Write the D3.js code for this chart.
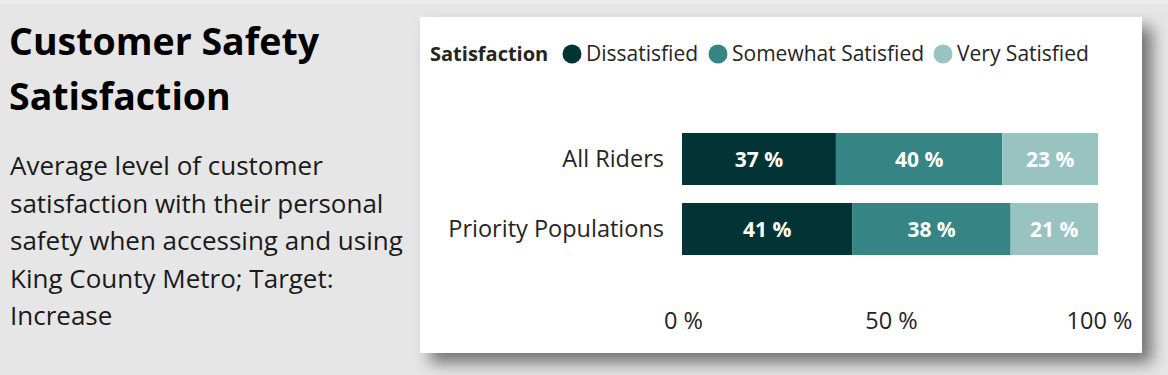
<!DOCTYPE html>
<html>
<head>
<meta charset="utf-8">
<script src="https://cdn.jsdelivr.net/npm/d3@7"></script>
<style>
  html, body { margin: 0; padding: 0; background: #e6e6e6; }
  svg { display: block; font-family: "Open Sans", "Noto Sans", sans-serif; }
</style>
</head>
<body>
<svg id="chart"></svg>
<script>
// data
const groups = ["All Riders", "Priority Populations"];
const levels = ["Dissatisfied", "Somewhat Satisfied", "Very Satisfied"];
const shares = [
  [0.37, 0.40, 0.23],   // All Riders
  [0.41, 0.38, 0.21]    // Priority Populations
];
const tickValues = [0, 0.5, 1];
const colours = ["#023436", "#348584", "#98c3c1"];

const titleLines = ["Customer Safety", "Satisfaction"];
const bodyLines = [
  "Average level of customer",
  "satisfaction with their personal",
  "safety when accessing and using",
  "King County Metro; Target:",
  "Increase"
];

const width = 1168, height = 375;
const font = '"Open Sans", "Noto Sans", sans-serif';

const svg = d3.select("#chart")
  .attr("width", width)
  .attr("height", height);

// page background
svg.append("rect").attr("width", width).attr("height", height).attr("fill", "#e6e6e6");
svg.append("rect").attr("width", width).attr("height", 4).attr("fill", "#ececec");

// left text panel
svg.append("g").selectAll("text")
  .data(titleLines)
  .join("text")
  .attr("x", 9)
  .attr("y", (d, i) => 55 + i * 55)
  .attr("font-size", 37.5)
  .attr("font-weight", 700)
  .attr("fill", "#000")
  .text(d => d);

svg.append("g").selectAll("text")
  .data(bodyLines)
  .join("text")
  .attr("x", 10)
  .attr("y", (d, i) => 175 + i * 37.5)
  .attr("font-size", 26)
  .attr("fill", "#1a1a1a")
  .text(d => d);

// card with drop shadow
const defs = svg.append("defs");
const f = defs.append("filter").attr("id", "shadow")
  .attr("x", "-10%").attr("y", "-10%").attr("width", "130%").attr("height", "130%");
f.append("feDropShadow")
  .attr("dx", 10).attr("dy", 10)
  .attr("stdDeviation", 8)
  .attr("flood-color", "#000")
  .attr("flood-opacity", 0.5);

svg.append("rect")
  .attr("x", 420).attr("y", 17)
  .attr("width", 722).attr("height", 336)
  .attr("fill", "#fff")
  .attr("filter", "url(#shadow)");

// legend
const legend = svg.append("g").attr("transform", "translate(430,61)");
legend.append("text")
  .attr("font-size", 20)
  .attr("font-weight", 700)
  .attr("fill", "#252423")
  .text("Satisfaction");
const legendX = [142, 288, 513];
const item = legend.selectAll("g.item")
  .data(levels)
  .join("g")
  .attr("class", "item")
  .attr("transform", (d, i) => `translate(${legendX[i]},0)`);
item.append("circle")
  .attr("cx", 0).attr("cy", -7).attr("r", 9.5)
  .attr("fill", (d, i) => colours[i]);
item.append("text")
  .attr("x", 14)
  .attr("font-size", 21)
  .attr("fill", "#252423")
  .text(d => d);

// scales
const x = d3.scaleLinear().domain([0, 1]).range([682, 1098]);
const y = d3.scaleBand()
  .domain(groups)
  .range([124, 264])
  .paddingInner(18 / 70)
  .paddingOuter(9 / 70);

const stacked = shares.map(row => {
  let acc = 0;
  return row.map((v, i) => {
    const s = { start: acc, end: acc + v, value: v, level: i };
    acc += v;
    return s;
  });
});

const rows = svg.append("g").selectAll("g.row")
  .data(groups)
  .join("g")
  .attr("class", "row");

rows.selectAll("rect")
  .data((g, gi) => stacked[gi].map(s => ({ ...s, group: g })))
  .join("rect")
  .attr("x", d => x(d.start))
  .attr("y", d => y(d.group))
  .attr("width", d => x(d.end) - x(d.start))
  .attr("height", y.bandwidth())
  .attr("fill", d => colours[d.level]);

rows.selectAll("text.val")
  .data((g, gi) => stacked[gi].map(s => ({ ...s, group: g })))
  .join("text")
  .attr("class", "val")
  .attr("x", d => (x(d.start) + x(d.end)) / 2)
  .attr("y", d => y(d.group) + y.bandwidth() / 2 + 7.5)
  .attr("text-anchor", "middle")
  .attr("font-size", 21)
  .attr("font-weight", 700)
  .attr("fill", "#fff")
  .text(d => Math.round(d.value * 100) + " %");

// category axis
const yAxis = svg.append("g")
  .attr("transform", `translate(${x(0)},0)`)
  .call(d3.axisLeft(y).tickSize(0).tickPadding(18));
yAxis.attr("font-family", font);
yAxis.select(".domain").remove();
yAxis.selectAll("text")
  .attr("font-size", 23.5)
  .attr("fill", "#252423")
  .attr("dy", "0.35em");

// value axis
const xAxis = svg.append("g")
  .attr("transform", "translate(1,312)")
  .call(d3.axisBottom(x)
    .tickValues(tickValues)
    .tickFormat(d => Math.round(d * 100) + " %")
    .tickSize(0).tickPadding(0));
xAxis.attr("font-family", font);
xAxis.select(".domain").remove();
xAxis.selectAll("text")
  .attr("font-size", 23.5)
  .attr("fill", "#252423")
  .attr("dy", "0.71em");
</script>
</body>
</html>
